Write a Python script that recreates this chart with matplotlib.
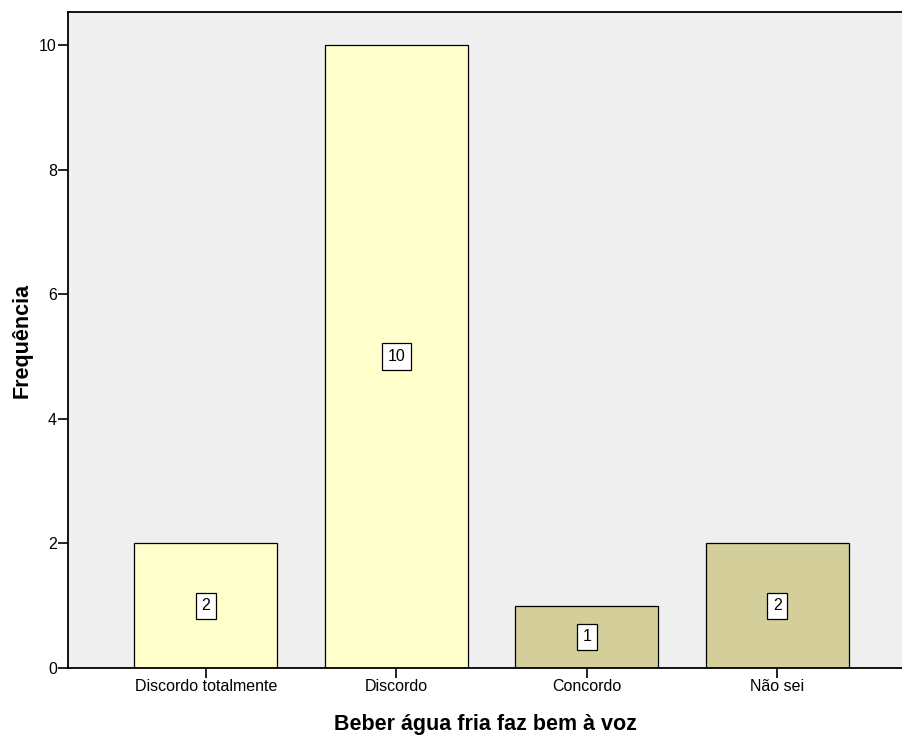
import numpy as np
import matplotlib
matplotlib.use("Agg")
import matplotlib.pyplot as plt

plt.rcParams['font.family'] = ['Liberation Sans', 'DejaVu Sans']

categorias = ["Discordo totalmente", "Discordo", "Concordo", "Não sei"]
frequencias = [2, 10, 1, 2]
cores = ["#FFFFCC", "#FFFFCC", "#D3CE9A", "#D3CE9A"]

fig = plt.figure(figsize=(9.03, 7.37), dpi=100)
ax = fig.add_axes([0.0753, 0.0936, 0.9247, 0.8901])
ax.set_facecolor("#EFEFEF")

x = np.arange(len(categorias))
barras = ax.bar(x, frequencias, width=0.75, color=cores, edgecolor="black", linewidth=0.9)

# rotulos com o valor no meio de cada barra
for xi, f in zip(x, frequencias):
    ax.text(xi, f / 2, str(f), ha="center", va="center", fontsize=11.5,
            bbox=dict(boxstyle="square,pad=0.35", facecolor="white", edgecolor="black", linewidth=0.9))

ax.set_xlim(-0.724, 3.66)
ax.set_ylim(0, 10.53)
ax.set_xticks(x)
ax.set_xticklabels(categorias)
ax.set_yticks([0, 2, 4, 6, 8, 10])
ax.tick_params(axis="both", direction="out", length=7, width=1.2, labelsize=11.5, pad=1)

ax.spines["right"].set_visible(False)
for s in ["left", "bottom", "top"]:
    ax.spines[s].set_linewidth(1.3)

ax.set_xlabel("Beber água fria faz bem à voz", fontsize=15.5, fontweight="bold", labelpad=14)
ax.set_ylabel("Frequência", fontsize=15.5, fontweight="bold", labelpad=5)

fig.savefig("out.png", dpi=100)
